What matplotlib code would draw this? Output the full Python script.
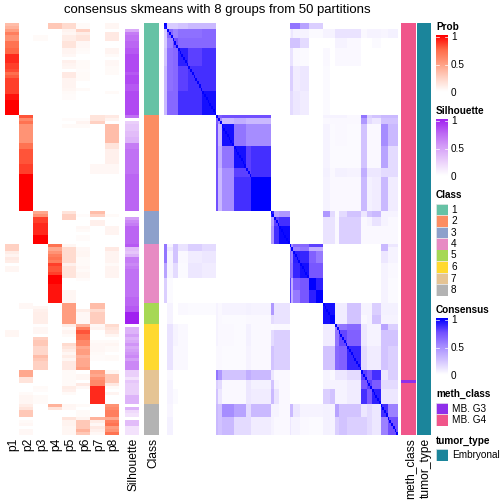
import numpy as np
import matplotlib
matplotlib.use("Agg")
import matplotlib.pyplot as plt
from matplotlib.colors import LinearSegmentedColormap, ListedColormap
from matplotlib.patches import Rectangle

plt.rcParams['font.family'] = ['Liberation Sans', 'DejaVu Sans']

# samples per class, top to bottom
class_sizes = [30, 31, 11, 19, 7, 15, 11, 10]
class_colors = ['#66C2A5', '#FC8D62', '#8DA0CB', '#E78AC3', '#A6D854', '#FFD92F', '#E5C494', '#B3B3B3']
class_names = ['1', '2', '3', '4', '5', '6', '7', '8']
p_names = ['p1', 'p2', 'p3', 'p4', 'p5', 'p6', 'p7', 'p8']

# membership probabilities, one value per sample
p1 = ([.35, .4, .5, .65, .55, .55, .7, .7, .75, .75, .9, .9, .9, .85, .85, .82, .72, .78, .85, .85, .85, .85, .85, .95, .95, 1, 1, 1, 1, 1]
      + [0] * 31 + [0] * 11
      + [.25, .25, .1, .06, .12, .1, 0, .05, .05] + [0] * 10
      + [0] * 7 + [0, 0, .05, .05] + [0] * 11 + [0] * 21)
p2 = ([0] * 30
      + [.8, .6, .7, .55, .55, .55, .55, .55, .55, .7, .7, .8, .8, .8, .8, .8, .85, .85, .85] + [1] * 12
      + [0] * 11 + [0] * 19 + [.04, .04, 0, 0, 0, 0, 0] + [0] * 15
      + [.45, .45, .15, .15, 0, 0, 0, .03, .05, .05, .05]
      + [.1, .15, .3, .3, 0, .03, .04, 0, .04, .04])
p3 = ([0] * 4 + [.03, .03] + [0] * 24 + [0] * 31
      + [.45, .55, .85, .85, .9, .9, .9, .9, 1, 1, 1] + [0] * 19
      + [0, .05, .08, .09, .09, .09, .09]
      + [.01, .04, .04, 0, .25, .3, .3, .22, .22, .22, .35, .3, .25, .25, .25]
      + [0, 0, 0, 0, 0, .03, .02, 0, .03, .03, .03] + [0] * 10)
p4 = ([.3, .3] + [0] * 28 + [0] * 31 + [0] * 11
      + [.7, .45, .55, .65, .7, .65, .85, .8, .8, .85, 1, 1, 1, .95, .95, .95, .95, .95, .95]
      + [0] * 7 + [0] * 15 + [0] * 11 + [.4, .15] + [0] * 8)
p5 = ([.2, .2, .07, .05, .1, .1, .15, .15, .06, .06, .04, 0, .08, .06, .05, 0, .12, .12, .06, .06, .06, .05, .03, .02, .02, 0, 0, 0, 0, 0]
      + [0, .02, 0, .03] + [0] * 27 + [.15, .25, .25] + [0] * 8
      + [.05, .2, .2, .2, .2, .2, .08, .15, .15, .15, .15, 0, 0, 0, 0, .05, .05, .05, .05]
      + [.5] * 7
      + [.1, .03, .06, .03, 0, 0, .2, .15, .1, .05, .1, .05, .12, .12, .12]
      + [.03, .03, .03, .03, .03, .1, .08, .03, 0, 0, 0]
      + [.05, .04, 0, 0, .15, .07, .07, .05, .05, .05])
p6 = ([.03, .03, .25, .1, .15, .15, .04, .04, .03, .02, 0, 0, .03, .03, .03, .02, .03, .03, .03, 0, 0, .03] + [0] * 8
      + [0, .02, .06, .03] + [0] * 27
      + [0, .02, 0, 0, 0, .04, .03, 0, .02, .02, 0]
      + [0, .04, .05, .05, .03, .03, .03, .04, .03, .05, .05, .02] + [0] * 7
      + [0, 0, .1, .04, .04, .04, .04]
      + [.4, .65, .8, .7, .7, .6, .6, .45, .5, .5, .4, .45, .45, .45, .5]
      + [0, .05, .05, 0, .12, .04, 0, 0, 0, 0, 0]
      + [.03, 0, .03, .03, .07, .3, .3, .3, .4, .3])
p7 = ([0] * 30 + [.15, .15, .25] + [0] * 13 + [.04, .04, .04] + [0] * 12
      + [.35, .25, 0, .08, .08] + [0] * 6 + [0] * 19
      + [.35, .35, .2, .27, .27, .27, .27]
      + [.04, .06, 0, 0, 0, .03, .04, .04, .04, .03, .02, .02, 0, 0, 0]
      + [.5, .45, .55, .6, .6, .9, .9, .9, .9, .9, .9]
      + [0, 0, 0, 0, .4, .1, .04, .12, .08, .04])
p8 = ([.05, .05, 0, .12, .12, .12, 0, 0, .06, .06, .03, 0, .04, .04, .03, .03, .03] + [0] * 5 + [.03] + [0] * 7
      + [.12, .07, 0, .35, .35, .35, .35, .35, .35, .15, .15, .08, .08, .08, .08, .08, .04, .04, .04] + [0] * 12
      + [0, .03, 0, 0, 0, .06, .06, .06, 0, 0, 0]
      + [0, .12, .06, .06, .06, .06, .03, .06, .06, .06, .06] + [0] * 8 + [0] * 7
      + [.2, .15, .12, .05, 0, .03, .05, .03, .03, 0, .03, .03, 0, 0, 0]
      + [.05, .3, .3, .3, .12, .03, 0, .06, 0, 0, 0]
      + [.55, .6, .65, .65, .45, .65, .7, .5, .55, .7])

silhouette = ([0, 0, .45, .65, .7, .7, .75, .75, .8, .8, .85, .85, .85, .85, .85, .85, .8, .85, .85, .85, .8, .8, .85, .85, .85, .85, .85, .85, .85, .85]
              + [.7, 0, .25, .3, .3, .35, .35, .4, .4, .65, .65, .7, .7, .7, .7, .7, .7, .7, .7] + [.75] * 12
              + [0, 0, .5, .6, .65, .75, .75, .75, .75, .75, .75]
              + [.8, .35, .3, .4, .65, .65, .6, .65, .7, .7, .7, .7, .7, .7, .7, .7, .7, .75, .75]
              + [.75, .8, .8, 1, 1, 1, 1]
              + [0, .4, .4, .5, .4, .45, .55, .45, .5, .55, .6, .5, .6, .6, .6]
              + [.25, .25, .15, .3, .25, .25, .25, .25, .4, .4, .4]
              + [0, .4, .2, .15, 0, .35, .35, .15, .15, .15])

# 0 = MB. G3, 1 = MB. G4
meth_class = [1] * 116 + [0] + [1] * 17

block_sizes = [2, 3, 3, 6, 8, 8,
               1, 2, 7, 7, 3, 11,
               2, 3, 6,
               1, 1, 4, 5, 4, 4,
               4, 3,
               2, 5, 8,
               3, 3, 5,
               4, 6]
# upper triangle of the block table, in percent
consensus_upper = [
    [95, 22, 22, 25, 30, 30, 0, 0, 0, 0, 0, 0, 0, 0, 0, 60, 60, 60, 40, 20, 20, 0, 0, 0, 0, 0, 0, 0, 0, 0, 0],
    [65, 55, 62, 62, 65, 0, 0, 0, 0, 0, 0, 0, 0, 0, 5, 10, 5, 5, 2, 2, 5, 5, 12, 12, 12, 3, 5, 5, 4, 6],
    [75, 65, 65, 65, 0, 0, 0, 0, 0, 0, 0, 0, 0, 25, 25, 25, 15, 0, 0, 0, 0, 5, 5, 3, 0, 0, 2, 0, 0],
    [90, 80, 85, 0, 0, 0, 0, 0, 0, 0, 0, 0, 12, 12, 3, 2, 0, 0, 3, 0, 3, 3, 3, 0, 0, 0, 0, 0],
    [85, 85, 0, 0, 0, 0, 0, 0, 0, 0, 0, 20, 20, 8, 10, 0, 0, 2, 0, 0, 0, 0, 0, 0, 0, 0, 0],
    [95, 0, 0, 0, 0, 0, 0, 0, 0, 0, 15, 15, 10, 8, 0, 0, 2, 0, 0, 0, 0, 0, 0, 0, 0, 0],
    [100, 70, 75, 75, 75, 75, 0, 0, 0, 0, 0, 0, 0, 0, 0, 5, 5, 5, 5, 3, 60, 20, 25, 30, 30],
    [50, 30, 35, 30, 30, 0, 0, 0, 0, 0, 0, 0, 0, 0, 3, 3, 3, 3, 3, 45, 15, 10, 25, 25],
    [95, 60, 50, 50, 0, 0, 0, 0, 0, 0, 0, 0, 0, 5, 2, 3, 3, 2, 25, 3, 3, 50, 30],
    [95, 80, 85, 0, 0, 0, 0, 0, 0, 0, 0, 0, 5, 2, 2, 2, 2, 25, 3, 3, 40, 15],
    [80, 85, 0, 0, 0, 0, 0, 0, 0, 0, 0, 6, 3, 6, 6, 5, 35, 10, 10, 15, 15],
    [100, 0, 0, 0, 0, 0, 0, 0, 0, 0, 5, 3, 3, 3, 3, 30, 6, 8, 30, 8],
    [90, 40, 45, 0, 0, 0, 0, 0, 0, 45, 15, 2, 15, 25, 10, 25, 30, 5, 5],
    [80, 85, 0, 0, 0, 0, 0, 0, 12, 12, 3, 20, 20, 3, 5, 12, 5, 3],
    [97, 0, 0, 0, 0, 0, 0, 12, 12, 3, 20, 20, 3, 3, 3, 3, 3],
    [100, 50, 65, 65, 80, 80, 0, 0, 0, 0, 0, 0, 0, 0, 30, 10],
    [60, 55, 60, 35, 35, 0, 0, 0, 0, 0, 0, 0, 0, 30, 5],
    [90, 88, 68, 58, 0, 0, 0, 0, 0, 0, 0, 0, 10, 5],
    [95, 72, 72, 0, 0, 0, 0, 0, 0, 0, 0, 5, 3],
    [100, 90, 0, 0, 0, 0, 0, 0, 0, 0, 5, 2],
    [100, 0, 0, 0, 0, 0, 0, 0, 0, 5, 2],
    [95, 95, 8, 8, 25, 5, 5, 20, 6, 6],
    [100, 8, 8, 25, 3, 5, 25, 5, 5],
    [55, 60, 65, 10, 5, 5, 40, 20],
    [78, 68, 10, 5, 5, 25, 25],
    [88, 15, 8, 8, 25, 20],
    [80, 72, 85, 10, 20],
    [80, 70, 15, 15],
    [90, 10, 10],
    [85, 55],
    [75],
]

W = 504.0


def px_axes(x0, y0, x1, y1):
    # box given in pixels from the top left corner
    ax = fig.add_axes([x0 / W, 1 - y1 / W, (x1 - x0) / W, (y1 - y0) / W])
    ax.set_axis_off()
    return ax


def px_text(x, y, s, **kw):
    kw.setdefault('va', 'center')
    fig.text(x / W, 1 - y / W, s, color='black', **kw)


def gradient_legend(title, y_title, y_top, y_bot, cmap):
    px_text(436, y_title, title, fontsize=10, fontweight='bold')
    ax = px_axes(436, y_top, 448, y_bot)
    ax.imshow(np.linspace(1, 0, 60)[:, None], cmap=cmap, vmin=0, vmax=1, aspect='auto')
    for frac, lab in [(0.04, '1'), (0.52, '0.5'), (1.02, '0')]:
        y = y_top + frac * (y_bot - y_top)
        if lab != '0':
            fig.add_artist(plt.Line2D([436 / W, 439 / W], [1 - y / W] * 2, color='white', lw=0.7))
            fig.add_artist(plt.Line2D([445 / W, 448 / W], [1 - y / W] * 2, color='white', lw=0.7))
        px_text(451, y, lab, fontsize=10)


def swatch(y0, color):
    ax = px_axes(436, y0, 448, y0 + 11.5)
    ax.add_patch(Rectangle((0, 0), 1, 1, facecolor=color, edgecolor='#E8E8E8', lw=0.6, transform=ax.transAxes))


prob_cmap = LinearSegmentedColormap.from_list('prob', ['#FFFFFF', '#FFD2C4', '#FF9E81', '#FF6A48', '#FF0000'])
sil_cmap = LinearSegmentedColormap.from_list('sil', ['#FFFFFF', '#EBD0FB', '#D5A0F8', '#BC66F4', '#A020F0'])
cons_cmap = LinearSegmentedColormap.from_list('cons', ['#FFFFFF', '#D3C4FF', '#A78EFF', '#7350FF', '#0000FF'])

fig = plt.figure(figsize=(7, 7), dpi=72)

top, bottom = 23, 435

# membership strip
prob = np.array([p1, p2, p3, p4, p5, p6, p7, p8]).T
ax = px_axes(5, top, 119, bottom)
ax.imshow(prob, cmap=prob_cmap, vmin=0, vmax=1, aspect='auto', interpolation='nearest')

# silhouette strip
ax = px_axes(125, top, 139, bottom)
ax.imshow(np.array(silhouette)[:, None], cmap=sil_cmap, vmin=0, vmax=1, aspect='auto', interpolation='nearest')

# class strip
class_ids = np.repeat(np.arange(8), class_sizes)
ax = px_axes(144, top, 159, bottom)
ax.imshow(class_ids[:, None], cmap=ListedColormap(class_colors), vmin=-.5, vmax=7.5, aspect='auto', interpolation='nearest')

# consensus heatmap, symmetric, self-consensus on the diagonal
n_blocks = len(block_sizes)
table = np.zeros((n_blocks, n_blocks))
for i, row in enumerate(consensus_upper):
    table[i, i:] = row
    table[i:, i] = row
blocks = np.repeat(np.arange(n_blocks), block_sizes)
consensus = table[np.ix_(blocks, blocks)] / 100.0
np.fill_diagonal(consensus, 1)
ax = px_axes(164, top, 397, bottom)
ax.imshow(consensus, cmap=cons_cmap, vmin=0, vmax=1, aspect='auto', interpolation='nearest')

# annotation strips
meth_colors = ['#8F2FEA', '#F0558A']
ax = px_axes(401, top, 416, bottom)
ax.imshow(np.array(meth_class)[:, None], cmap=ListedColormap(meth_colors), vmin=-.5, vmax=1.5, aspect='auto', interpolation='nearest')
tumor_color = '#1B859B'
ax = px_axes(417, top, 431, bottom)
ax.add_patch(Rectangle((0, 0), 1, 1, color=tumor_color, transform=ax.transAxes))

# labels under the columns
col_w = (119 - 5) / 8.0
for i, name in enumerate(p_names):
    px_text(6.5 + col_w * (i + .5), 438, name, fontsize=12, rotation=90, ha='center', va='top')
px_text(133.5, 438, 'Silhouette', fontsize=12, rotation=90, ha='center', va='top')
px_text(153, 438, 'Class', fontsize=12, rotation=90, ha='center', va='top')
px_text(410, 438, 'meth_class', fontsize=12, rotation=90, ha='center', va='top')
px_text(425.5, 438, 'tumor_type', fontsize=12, rotation=90, ha='center', va='top')

px_text(217.5, 9.5, 'consensus skmeans with 8 groups from 50 partitions', fontsize=13.1, ha='center')

# legends
gradient_legend('Prob', 27, 35, 92, prob_cmap)
gradient_legend('Silhouette', 111, 119, 176, sil_cmap)
gradient_legend('Consensus', 310, 318, 375, cons_cmap)

px_text(436, 195, 'Class', fontsize=10, fontweight='bold')
for i, name in enumerate(class_names):
    y0 = 203.5 + i * 11.5
    swatch(y0, class_colors[i])
    px_text(451, y0 + 6, name, fontsize=10)

px_text(436, 394, 'meth_class', fontsize=10, fontweight='bold')
for i, name in enumerate(['MB. G3', 'MB. G4']):
    y0 = 402.5 + i * 11.5
    swatch(y0, meth_colors[i])
    px_text(452, y0 + 6, name, fontsize=10)

px_text(436, 441, 'tumor_type', fontsize=10, fontweight='bold')
swatch(449, tumor_color)
px_text(452, 455, 'Embryonal', fontsize=10)

fig.savefig('out.png', dpi=72)
